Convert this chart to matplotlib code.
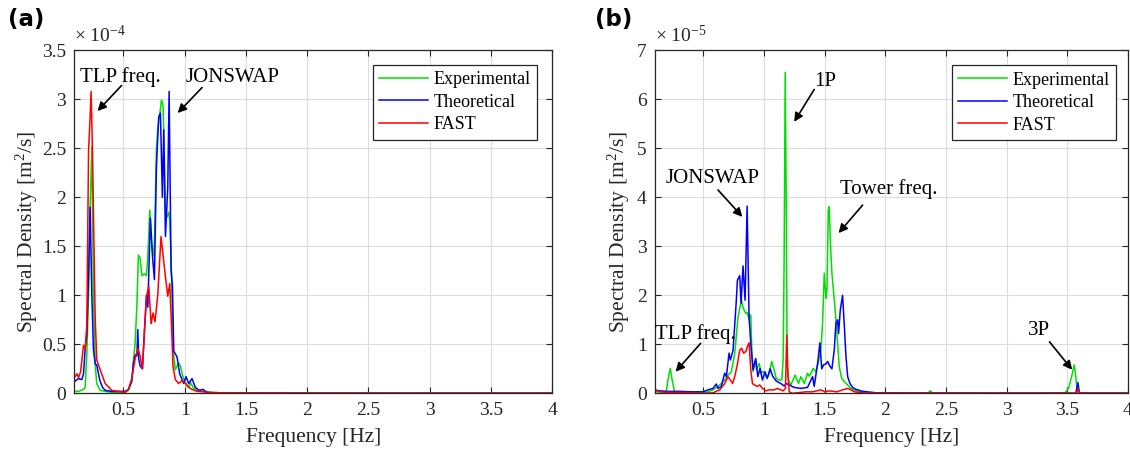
import matplotlib
matplotlib.use("Agg")
import matplotlib.pyplot as plt
from matplotlib.ticker import FuncFormatter, MultipleLocator

# ---------------- data ----------------
# Panel (a): PSD in units of 1e-4 m^2/s
fa_exp = [0.10, 0.133, 0.174, 0.187, 0.201, 0.215, 0.228, 0.242, 0.255, 0.269,
          0.282, 0.31, 0.351, 0.405, 0.514, 0.541, 0.568, 0.595, 0.61, 0.622,
          0.635, 0.652, 0.671, 0.688, 0.699, 0.715, 0.726, 0.737, 0.745, 0.753,
          0.769, 0.780, 0.796, 0.810, 0.818, 0.824, 0.834, 0.843, 0.856, 0.870,
          0.878, 0.889, 0.900, 0.905, 0.924, 0.938, 0.952, 0.965, 0.979, 0.992,
          1.011, 1.033, 1.047, 1.060, 1.074, 1.10, 1.15, 1.2, 1.3, 1.5,
          2.0, 3.0, 4.0]
pa_exp = [0.02, 0.02, 0.04, 0.06, 0.4, 1.0, 1.9, 2.52, 1.0, 0.3,
          0.1, 0.03, 0.02, 0.01, 0.01, 0.03, 0.14, 0.51, 0.9, 1.41,
          1.38, 1.2, 1.22, 1.2, 1.4, 1.87, 1.6, 1.45, 1.4, 1.55,
          2.48, 2.7, 2.84, 2.99, 2.97, 2.92, 2.4, 1.85, 1.8, 1.85,
          1.75, 1.39, 0.8, 0.44, 0.24, 0.28, 0.31, 0.28, 0.2, 0.15,
          0.08, 0.06, 0.11, 0.08, 0.05, 0.03, 0.02, 0.01, 0.005, 0.003,
          0.002, 0.001, 0.001]

fa_th = [0.10, 0.133, 0.16, 0.174, 0.187, 0.201, 0.215, 0.228, 0.242, 0.255,
         0.269, 0.282, 0.296, 0.31, 0.33, 0.351, 0.405, 0.514, 0.541, 0.568,
         0.58, 0.595, 0.61, 0.617, 0.625, 0.636, 0.655, 0.67, 0.688, 0.699,
         0.720, 0.737, 0.753, 0.769, 0.788, 0.802, 0.818, 0.829, 0.843, 0.862,
         0.873, 0.889, 0.900, 0.911, 0.938, 0.959, 0.992, 1.011, 1.033, 1.06,
         1.087, 1.12, 1.15, 1.182, 1.223, 1.3, 1.5, 2.0, 3.0, 4.0]
pa_th = [0.12, 0.15, 0.14, 0.2, 0.45, 0.6, 1.2, 1.9, 1.0, 0.45,
         0.3, 0.29, 0.2, 0.12, 0.06, 0.03, 0.02, 0.02, 0.04, 0.12,
         0.3, 0.39, 0.38, 0.65, 0.35, 0.28, 0.25, 0.6, 1.0, 0.88,
         1.79, 1.4, 1.16, 2.3, 2.82, 2.86, 2.0, 2.69, 1.6, 2.1,
         3.08, 1.26, 1.1, 0.43, 0.37, 0.2, 0.1, 0.17, 0.1, 0.15,
         0.06, 0.03, 0.04, 0.01, 0.005, 0.003, 0.002, 0.001, 0.001, 0.001]

fa_fast = [0.10, 0.12, 0.133, 0.15, 0.174, 0.187, 0.201, 0.215, 0.228, 0.236,
           0.247, 0.258, 0.269, 0.282, 0.31, 0.351, 0.405, 0.514, 0.541, 0.568,
           0.595, 0.617, 0.636, 0.655, 0.67, 0.688, 0.707, 0.726, 0.742, 0.758,
           0.780, 0.807, 0.824, 0.843, 0.862, 0.878, 0.889, 0.905, 0.924, 0.95,
           0.979, 1.011, 1.033, 1.06, 1.1, 1.2, 1.3, 1.5, 2.0, 3.0,
           4.0]
pa_fast = [0.16, 0.2, 0.16, 0.22, 0.49, 0.45, 0.7, 2.48, 2.82, 3.08,
           2.48, 1.6, 0.78, 0.34, 0.24, 0.1, 0.03, 0.01, 0.04, 0.15,
           0.35, 0.46, 0.38, 0.25, 0.6, 0.99, 1.09, 0.71, 0.82, 0.73,
           1.0, 1.6, 1.4, 1.19, 0.99, 1.12, 0.8, 0.27, 0.14, 0.1,
           0.13, 0.1, 0.06, 0.04, 0.02, 0.01, 0.005, 0.003, 0.002, 0.001,
           0.001]

# Panel (b): PSD in units of 1e-5 m^2/s
fb_exp = [0.096, 0.138, 0.193, 0.207, 0.226, 0.242, 0.262, 0.30, 0.40, 0.496,
          0.537, 0.578, 0.634, 0.675, 0.702, 0.730, 0.758, 0.785, 0.813, 0.826,
          0.849, 0.862, 0.876, 0.890, 0.898, 0.909, 0.926, 0.937, 0.959, 0.975,
          0.992, 1.014, 1.036, 1.063, 1.080, 1.100, 1.124, 1.146, 1.157, 1.165,
          1.174, 1.182, 1.190, 1.201, 1.220, 1.256, 1.284, 1.303, 1.331, 1.358,
          1.372, 1.386, 1.405, 1.427, 1.449, 1.468, 1.482, 1.496, 1.510, 1.518,
          1.529, 1.537, 1.546, 1.559, 1.579, 1.592, 1.606, 1.620, 1.639, 1.661,
          1.689, 1.716, 1.758, 1.813, 1.923, 2.1, 2.35, 2.37, 2.39, 2.8,
          3.3, 3.48, 3.51, 3.535, 3.557, 3.57, 3.582, 3.7, 4.0]
pb_exp = [0.03, 0.03, 0.03, 0.27, 0.51, 0.27, 0.03, 0.02, 0.02, 0.02,
          0.03, 0.07, 0.17, 0.27, 0.37, 0.44, 0.82, 1.56, 1.9, 1.75,
          1.63, 1.65, 1.5, 1.6, 0.95, 0.44, 0.68, 0.48, 0.61, 0.4,
          0.45, 0.35, 0.35, 0.65, 0.5, 0.3, 0.27, 0.27, 0.68, 2.7,
          6.55, 4.0, 0.6, 0.27, 0.17, 0.37, 0.2, 0.34, 0.2, 0.41,
          0.35, 0.41, 0.51, 0.44, 0.65, 0.89, 1.43, 2.45, 1.94, 2.1,
          3.74, 3.81, 3.1, 2.45, 1.9, 1.5, 1.02, 0.54, 0.31, 0.24,
          0.17, 0.1, 0.05, 0.02, 0.01, 0.005, 0.005, 0.05, 0.005, 0.003,
          0.003, 0.01, 0.1, 0.34, 0.58, 0.34, 0.01, 0.003, 0.003]

fb_th = [0.096, 0.138, 0.20, 0.30, 0.40, 0.496, 0.537, 0.578, 0.606, 0.620,
         0.647, 0.675, 0.689, 0.711, 0.722, 0.744, 0.771, 0.780, 0.799, 0.810,
         0.826, 0.843, 0.860, 0.876, 0.892, 0.909, 0.931, 0.948, 0.967, 0.986,
         1.008, 1.025, 1.050, 1.070, 1.100, 1.138, 1.165, 1.182, 1.207, 1.248,
         1.303, 1.358, 1.386, 1.400, 1.413, 1.441, 1.460, 1.475, 1.490, 1.510,
         1.524, 1.543, 1.559, 1.579, 1.592, 1.606, 1.614, 1.628, 1.647, 1.661,
         1.675, 1.689, 1.708, 1.730, 1.758, 1.813, 1.923, 2.2, 3.0, 3.57,
         3.587, 3.60, 3.7, 4.0]
pb_th = [0.07, 0.05, 0.04, 0.04, 0.03, 0.03, 0.07, 0.1, 0.19, 0.1,
         0.14, 0.41, 0.34, 0.82, 0.68, 0.88, 1.9, 2.31, 2.4, 1.84,
         2.6, 1.9, 3.82, 1.56, 0.95, 0.48, 0.71, 0.34, 0.51, 0.27,
         0.44, 0.3, 0.5, 0.35, 0.25, 0.2, 0.15, 0.2, 0.17, 0.12,
         0.1, 0.12, 0.27, 0.34, 0.14, 0.61, 1.03, 0.5, 0.58, 0.6,
         0.65, 0.55, 0.5, 0.9, 1.43, 1.5, 1.22, 1.7, 2.0, 1.4,
         0.75, 0.34, 0.2, 0.12, 0.08, 0.04, 0.01, 0.005, 0.003, 0.003,
         0.22, 0.003, 0.003, 0.003]

fb_fast = [0.096, 0.12, 0.138, 0.20, 0.30, 0.40, 0.496, 0.578, 0.634, 0.675,
           0.702, 0.722, 0.740, 0.758, 0.780, 0.799, 0.815, 0.830, 0.849, 0.862,
           0.876, 0.890, 0.904, 0.920, 0.945, 0.964, 0.986, 1.014, 1.041, 1.083,
           1.110, 1.138, 1.157, 1.176, 1.187, 1.196, 1.207, 1.234, 1.344, 1.40,
           1.468, 1.50, 1.537, 1.60, 1.647, 1.689, 1.716, 1.744, 1.813, 1.923,
           2.5, 3.5, 3.575, 3.587, 3.60, 3.7, 4.0]
pb_fast = [0.07, 0.05, 0.03, 0.02, 0.02, 0.01, 0.0, 0.01, 0.07, 0.2,
           0.34, 0.27, 0.2, 0.34, 0.6, 0.88, 0.92, 0.82, 0.85, 0.95,
           1.03, 0.48, 0.2, 0.17, 0.14, 0.17, 0.1, 0.05, 0.07, 0.07,
           0.1, 0.07, 0.05, 0.1, 1.19, 0.4, 0.03, 0.0, 0.03, 0.03,
           0.07, 0.03, 0.05, 0.03, 0.07, 0.1, 0.07, 0.03, 0.01, 0.005,
           0.003, 0.003, 0.003, 0.1, 0.003, 0.003, 0.003]

series_labels = ["Experimental", "Theoretical", "FAST"]
series_colors = ["#00e000", "#0000ff", "#ff0000"]

# ---------------- style ----------------
SERIF = "Liberation Serif"
plt.rcParams["font.family"] = [SERIF, "DejaVu Serif"]
plt.rcParams["mathtext.fontset"] = "custom"
plt.rcParams["mathtext.rm"] = SERIF
plt.rcParams["mathtext.it"] = SERIF + ":italic"
plt.rcParams["mathtext.bf"] = SERIF + ":bold"

AX_COLOR = "#262626"
TICK_FS = 14
LABEL_FS = 15.5
ANN_FS = 15
LEG_FS = 13

fig = plt.figure(figsize=(11.30, 4.54), dpi=100)
ax_a = fig.add_axes([0.0659, 0.1337, 0.4226, 0.7555])
ax_b = fig.add_axes([0.5796, 0.1337, 0.4186, 0.7555])

fmt = FuncFormatter(lambda v, p: "%g" % round(v, 3))


def style_axes(ax, ymax, ystep, exponent):
    ax.set_xlim(0.1, 4.0)
    ax.set_ylim(0, ymax)
    ax.xaxis.set_major_locator(MultipleLocator(0.5))
    ax.yaxis.set_major_locator(MultipleLocator(ystep))
    ax.xaxis.set_major_formatter(fmt)
    ax.yaxis.set_major_formatter(fmt)
    ax.grid(True, color="#dcdcdc", linewidth=0.8)
    ax.set_axisbelow(True)
    ax.tick_params(direction="in", length=4, width=0.8, colors=AX_COLOR,
                   labelsize=TICK_FS, top=True, right=True, pad=6)
    for s in ax.spines.values():
        s.set_color(AX_COLOR)
        s.set_linewidth(0.9)
    ax.set_xlabel("Frequency [Hz]", fontsize=LABEL_FS, color=AX_COLOR)
    ax.set_ylabel("Spectral Density [m$^2$/s]", fontsize=LABEL_FS, color=AX_COLOR)
    ax.xaxis.set_label_coords(0.5, -0.1)
    ax.text(0.0, 1.012, "× 10$^{%d}$" % exponent, transform=ax.transAxes,
            ha="left", va="bottom", fontsize=14, color=AX_COLOR)


def draw_series(ax, freqs, values):
    for f, v, lab, col in zip(freqs, values, series_labels, series_colors):
        ax.plot(f, v, color=col, lw=1.1, label=lab)


def add_legend(ax, anchor):
    leg = ax.legend(loc="upper right", bbox_to_anchor=anchor, borderaxespad=0,
                    fontsize=LEG_FS, handlelength=2.7, handletextpad=0.3,
                    labelspacing=0.3, borderpad=0.35, fancybox=False,
                    framealpha=1, edgecolor=AX_COLOR)
    leg.get_frame().set_linewidth(0.9)


def arrow(ax, start, end):
    ax.annotate("", xy=end, xytext=start,
                arrowprops=dict(arrowstyle="-|>", color="k", lw=1.2,
                                mutation_scale=13, shrinkA=0, shrinkB=0))


# ---------------- panel (a) ----------------
draw_series(ax_a, [fa_exp, fa_th, fa_fast], [pa_exp, pa_th, pa_fast])
style_axes(ax_a, 3.5, 0.5, -4)
ax_a.yaxis.set_label_coords(-0.072, 0.47)
add_legend(ax_a, (0.9686, 0.957))
ax_a.text(0.476, 3.23, "TLP freq.", fontsize=ANN_FS, ha="center", va="center", color="k")
arrow(ax_a, (0.484, 3.14), (0.288, 2.88))
ax_a.text(1.389, 3.22, "JONSWAP", fontsize=ANN_FS, ha="center", va="center", color="k")
arrow(ax_a, (1.142, 3.12), (0.943, 2.86))

# ---------------- panel (b) ----------------
draw_series(ax_b, [fb_exp, fb_th, fb_fast], [pb_exp, pb_th, pb_fast])
style_axes(ax_b, 7, 1, -5)
ax_b.yaxis.set_label_coords(-0.049, 0.47)
add_legend(ax_b, (0.9746, 0.956))
ax_b.text(1.504, 6.37, "1P", fontsize=ANN_FS, ha="center", va="center", color="k")
arrow(ax_b, (1.413, 6.2), (1.248, 5.54))
ax_b.text(0.579, 4.39, "JONSWAP", fontsize=ANN_FS, ha="center", va="center", color="k")
arrow(ax_b, (0.62, 4.15), (0.821, 3.60))
ax_b.text(2.025, 4.17, "Tower freq.", fontsize=ANN_FS, ha="center", va="center", color="k")
arrow(ax_b, (1.812, 3.84), (1.614, 3.27))
ax_b.text(0.435, 1.21, "TLP freq.", fontsize=ANN_FS, ha="center", va="center", color="k")
arrow(ax_b, (0.477, 1.02), (0.270, 0.44))
ax_b.text(3.269, 1.29, "3P", fontsize=ANN_FS, ha="center", va="center", color="k")
arrow(ax_b, (3.353, 1.05), (3.54, 0.48))

# panel letters
fig.text(8 / 1130, 1 - 8 / 454, "(a)", fontsize=16.5, fontweight="bold",
         family="DejaVu Sans", ha="left", va="top")
fig.text(595 / 1130, 1 - 8 / 454, "(b)", fontsize=16.5, fontweight="bold",
         family="DejaVu Sans", ha="left", va="top")

fig.savefig("out.png", dpi=100)
